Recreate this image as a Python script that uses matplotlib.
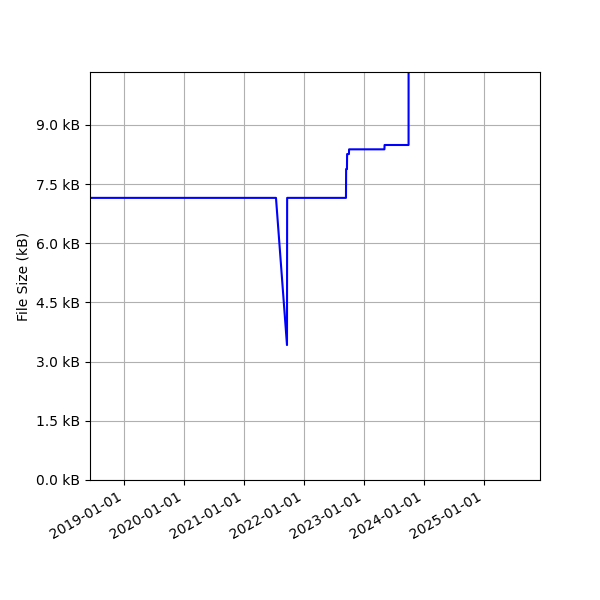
import numpy as np
import pandas as pd
import matplotlib
matplotlib.use("Agg")
import matplotlib.pyplot as plt
import matplotlib.dates as mdates
from matplotlib.ticker import FuncFormatter

# commit dates and file size in bytes
dates = [
    "2018-06-08", "2021-07-14", "2021-09-19", "2021-09-20",
    "2022-09-13", "2022-09-14", "2022-09-19", "2022-09-20",
    "2022-10-01", "2022-10-02", "2023-05-05", "2023-05-06",
    "2023-09-29", "2023-09-30",
]
sizes = [
    7150, 7150, 3420, 7150,
    7150, 7880, 7880, 8260,
    8260, 8380, 8380, 8490,
    8490, 25000,
]
size_ticks = [0, 1500, 3000, 4500, 6000, 7500, 9000]

x_start = "2018-06-08"
x_end = "2025-12-07"
y_max = 10340


def main():
    t = pd.to_datetime(dates)

    fig, ax = plt.subplots(figsize=(6, 6), dpi=100)
    ax.plot(t, sizes, color="blue", linewidth=1.5)

    ax.set_xlim(pd.Timestamp(x_start), pd.Timestamp(x_end))
    ax.set_ylim(0, y_max)
    ax.set_yticks(size_ticks)
    ax.yaxis.set_major_formatter(FuncFormatter(lambda v, _: f"{v / 1000:.1f} kB"))
    ax.xaxis.set_major_locator(mdates.YearLocator())
    ax.xaxis.set_major_formatter(mdates.DateFormatter("%Y-%m-%d"))

    ax.set_ylabel("File Size (kB)")
    ax.grid(True)

    fig.autofmt_xdate()
    fig.subplots_adjust(left=0.15, right=0.9, top=0.88, bottom=0.2)
    fig.savefig("out.png")


if __name__ == "__main__":
    main()
